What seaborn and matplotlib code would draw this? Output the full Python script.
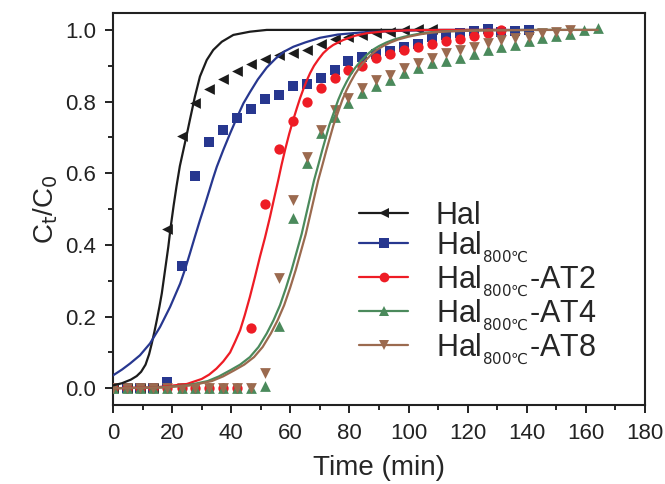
import matplotlib
matplotlib.use("Agg")
import matplotlib.pyplot as plt
from matplotlib.lines import Line2D
import seaborn as sns
import pandas as pd

# sampling times (min) shared by all measured series
times = [0, 4.6, 9.1, 13.6, 18.3, 23.2, 27.8, 32.5, 37.2, 42.0, 46.7, 51.4,
         56.1, 60.8, 65.5, 70.2, 75.0, 79.6, 84.4, 89.0, 93.7, 98.4, 103.2,
         107.8, 112.7, 117.4, 122.1, 126.7, 131.4, 136.0, 140.6, 145.3, 150.0,
         154.6, 159.3, 164.1]

hal = [0, 0, 0, 0, 0.444, 0.704, 0.797, 0.834, 0.862, 0.886, 0.905, 0.918,
       0.930, 0.935, 0.944, 0.962, 0.974, 0.981, 0.986, 0.991, 0.995, 0.999,
       1.002, 1.003]
hal800 = [0, 0, 0, 0, 0.018, 0.340, 0.592, 0.687, 0.722, 0.753, 0.778, 0.806,
          0.818, 0.844, 0.848, 0.867, 0.888, 0.912, 0.925, 0.933, 0.940, 0.951,
          0.961, 0.980, 0.986, 0.991, 0.997, 1.003, 0.995, 0.997, 1.000]
at2 = [0, 0, 0, 0, 0, 0, 0, 0, 0, 0, 0.168, 0.513, 0.667, 0.747, 0.800, 0.839,
       0.865, 0.888, 0.900, 0.921, 0.933, 0.944, 0.953, 0.961, 0.968, 0.975,
       0.984, 0.990, 1.000]
at4 = [0, 0, 0, 0, 0, 0, 0, 0, 0, 0, 0, 0.006, 0.174, 0.474, 0.628, 0.711,
       0.758, 0.797, 0.823, 0.844, 0.860, 0.879, 0.893, 0.907, 0.914, 0.922,
       0.932, 0.944, 0.951, 0.958, 0.969, 0.977, 0.984, 0.988, 1.000, 1.005]
at8 = [0, 0, 0, 0, 0, 0, 0, 0, 0, 0, 0, 0.043, 0.308, 0.525, 0.646, 0.720,
       0.777, 0.809, 0.837, 0.860, 0.874, 0.893, 0.907, 0.921, 0.935, 0.944,
       0.953, 0.963, 0.972, 0.977, 0.981, 0.990, 0.995, 1.000]

# fitted curves
fit_hal_t = [0, 3, 6, 8, 9.5, 11, 12.2, 13.1, 14, 14.8, 15.7, 16.5, 17.6,
             18.7, 19.5, 20.5, 21.5, 22.6, 23.8, 25, 26, 27.7, 29.4, 31.7,
             33.9, 36.8, 40.7, 46.3, 52, 60, 80, 108]
fit_hal_v = [0.008, 0.014, 0.024, 0.034, 0.046, 0.066, 0.095, 0.125, 0.158,
             0.19, 0.228, 0.265, 0.33, 0.395, 0.45, 0.51, 0.565, 0.62, 0.665,
             0.71, 0.749, 0.814, 0.87, 0.916, 0.944, 0.967, 0.986, 0.995, 1.0,
             1.0, 1.0, 1.0]
fit_hal800_t = [0, 3, 5.75, 9.1, 12.5, 15.9, 19.3, 22.7, 24.4, 26, 27.7, 29.4,
                31, 32.5, 33.8, 35.1, 37.3, 39.6, 41.9, 44.1, 46.3, 49, 52, 55,
                58, 61, 65, 70, 76, 84, 95, 110, 140]
fit_hal800_v = [0.036, 0.052, 0.069, 0.092, 0.125, 0.171, 0.227, 0.292, 0.333,
                0.376, 0.423, 0.469, 0.51, 0.55, 0.585, 0.618, 0.665, 0.711,
                0.755, 0.795, 0.826, 0.862, 0.895, 0.92, 0.94, 0.953, 0.965,
                0.978, 0.987, 0.993, 0.997, 1.0, 1.0]
fit_at2_t = [0, 15, 25, 30, 32.5, 35, 37.3, 39.6, 41.3, 43, 44.6, 46.3, 48,
             49.7, 51.4, 53.1, 54.5, 55.9, 57, 58.2, 59.6, 61, 62.2, 63.3,
             64.4, 65.5, 66.7, 68, 69.5, 71.1, 72.8, 74.5, 77.9, 82, 86, 92,
             100, 112, 131]
fit_at2_v = [0.0, 0.003, 0.012, 0.026, 0.038, 0.055, 0.075, 0.1, 0.13, 0.162,
             0.205, 0.255, 0.31, 0.367, 0.42, 0.478, 0.53, 0.581, 0.623, 0.665,
             0.71, 0.75, 0.782, 0.81, 0.835, 0.858, 0.88, 0.9, 0.918, 0.935,
             0.948, 0.958, 0.972, 0.984, 0.991, 0.996, 0.999, 1.0, 1.0]
fit_at4_t = [0, 15, 25, 32, 35.8, 39.6, 43, 46.3, 49.2, 52, 54.3, 56.5, 58.5,
             60.4, 62.1, 63.8, 65.2, 66.6, 68, 69.5, 70.8, 72, 73.2, 74.5,
             76.2, 77.6, 79, 80.5, 82, 83.9, 85.8, 87.8, 90, 92.5, 95, 98.5,
             102.7, 107, 112, 125, 145, 164]
fit_at4_v = [0.0, 0.002, 0.008, 0.02, 0.033, 0.05, 0.066, 0.087, 0.115, 0.153,
             0.19, 0.232, 0.28, 0.33, 0.38, 0.43, 0.48, 0.53, 0.58, 0.625,
             0.665, 0.7, 0.735, 0.765, 0.805, 0.832, 0.855, 0.877, 0.895,
             0.914, 0.93, 0.944, 0.955, 0.965, 0.973, 0.981, 0.988, 0.993,
             0.996, 0.999, 1.0, 1.0]
fit_at8_t = [0, 16.4, 26.4, 33.4, 37.2, 41, 44.4, 47.7, 50.6, 53.4, 55.7,
             57.9, 59.9, 61.8, 63.5, 65.2, 66.6, 68, 69.4, 70.9, 72.2, 73.4,
             74.6, 75.9, 77.6, 79, 80.4, 81.9, 83.4, 85.3, 87.2, 89.2, 91.4,
             93.9, 96.4, 99.9, 104.1, 108.4, 113.4, 126.4, 146.4, 164]
fit_at8_v = fit_at4_v  # same shape, shifted right by about 1.4 min

labels = ["Hal", "Hal$_{_{800℃}}$", "Hal$_{_{800℃}}$-AT2",
          "Hal$_{_{800℃}}$-AT4", "Hal$_{_{800℃}}$-AT8"]
colors = ["#1c1c1c", "#27378f", "#ee1c25", "#4b8a5c", "#9b6a4f"]
markers = ["<", "s", "o", "^", "v"]
msizes = [60, 48, 55, 60, 60]

sns.set_style("ticks")
plt.rcParams["font.family"] = ["Liberation Sans", "DejaVu Sans"]
plt.rcParams["mathtext.fontset"] = "custom"
plt.rcParams["mathtext.rm"] = "DejaVu Sans"
plt.rcParams["mathtext.it"] = "DejaVu Sans"

series = [hal, hal800, at2, at4, at8]
fits = [(fit_hal_t, fit_hal_v), (fit_hal800_t, fit_hal800_v),
        (fit_at2_t, fit_at2_v), (fit_at4_t, fit_at4_v), (fit_at8_t, fit_at8_v)]

fig, ax = plt.subplots(figsize=(6.65, 4.84), dpi=100)
fig.subplots_adjust(left=0.17, right=0.97, top=0.973, bottom=0.163)

for vals, col, mk, ms in zip(series, colors, markers, msizes):
    df = pd.DataFrame({"t": times[:len(vals)], "v": vals})
    sns.scatterplot(data=df, x="t", y="v", color=col, marker=mk, s=ms,
                    linewidth=0, ax=ax, legend=False, zorder=3)

for (ft, fv), col in zip(fits, colors):
    df = pd.DataFrame({"t": ft, "v": fv})
    sns.lineplot(data=df, x="t", y="v", color=col, lw=1.6, ax=ax,
                 legend=False, zorder=4, solid_joinstyle="round")

ax.set_xlim(0, 180)
ax.set_ylim(-0.047, 1.047)
ax.set_xticks(range(0, 181, 20))
ax.set_xticks(range(10, 181, 20), minor=True)
ax.set_yticks([0.0, 0.2, 0.4, 0.6, 0.8, 1.0])
ax.set_yticks([0.1, 0.3, 0.5, 0.7, 0.9], minor=True)
ax.set_yticklabels(["0.0", "0.2", "0.4", "0.6", "0.8", "1.0"])
ax.tick_params(which="major", direction="out", length=6, width=1.4,
               labelsize=16, colors="#222222")
ax.tick_params(axis="x", which="major", pad=7)
ax.tick_params(axis="y", which="major", pad=6)
ax.tick_params(which="minor", direction="out", length=3.5, width=1.4)
for sp in ax.spines.values():
    sp.set_linewidth(1.5)
    sp.set_color("#222222")

ax.set_xlabel("Time (min)", fontsize=20, labelpad=8)
ax.set_ylabel("C$_t$/C$_0$", fontsize=20, labelpad=4)

handles = [Line2D([0], [0], color=c, marker=m, markersize=7, lw=1.6,
                  markeredgewidth=0) for c, m in zip(colors, markers)]
ax.legend(handles, labels, loc="lower left", bbox_to_anchor=(0.44, 0.067),
          frameon=False, fontsize=22, handlelength=1.6, handletextpad=0.9,
          labelspacing=-0.05, borderaxespad=0)

fig.savefig("out.png", dpi=100)
